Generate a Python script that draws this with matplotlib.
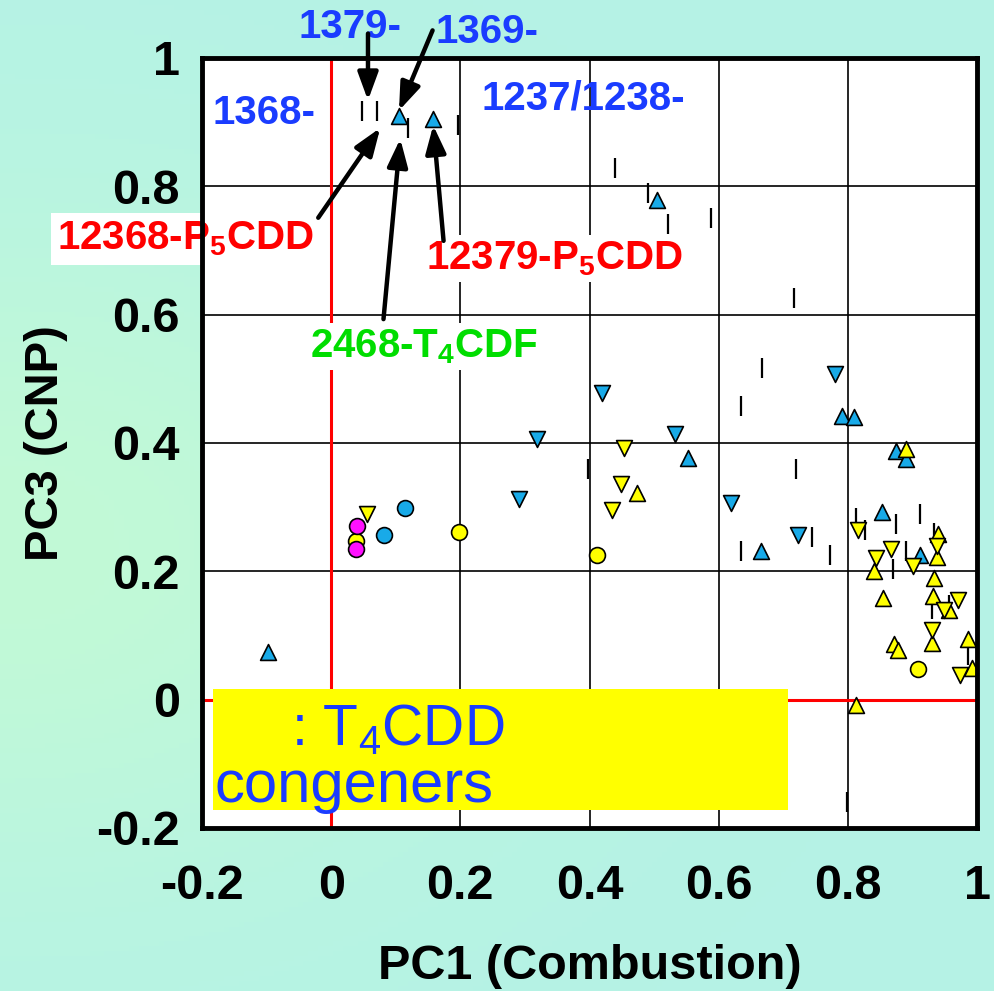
import matplotlib.pyplot as plt
import numpy as np
from matplotlib.patches import Rectangle

plt.rcParams['font.family'] = ['Liberation Sans', 'DejaVu Sans']
plt.rcParams['mathtext.default'] = 'regular'

# --- data ---
tick_x = [0.047, 0.071, 0.119, 0.197, 0.440, 0.490, 0.521, 0.588, 0.716, 0.667, 0.634,
          0.397, 0.719, 0.634, 0.744, 0.772, 0.812, 0.826, 0.874, 0.912, 0.870, 0.890,
          0.933, 0.930, 0.957, 0.986, 0.798]
tick_y = [0.918, 0.918, 0.891, 0.896, 0.829, 0.790, 0.742, 0.751, 0.626, 0.517, 0.457,
          0.359, 0.359, 0.231, 0.254, 0.225, 0.283, 0.265, 0.273, 0.289, 0.203, 0.231,
          0.259, 0.141, 0.148, 0.070, -0.160]

cyan_up_x = [0.105, 0.157, 0.505, -0.098, 0.552, 0.791, 0.809, 0.874, 0.890, 0.853, 0.665, 0.912]
cyan_up_y = [0.910, 0.905, 0.778, 0.075, 0.376, 0.442, 0.440, 0.387, 0.375, 0.292, 0.231, 0.225]

cyan_dn_x = [0.420, 0.532, 0.780, 0.619, 0.722, 0.319, 0.291]
cyan_dn_y = [0.478, 0.414, 0.507, 0.306, 0.256, 0.406, 0.312]

cyan_circ_x = [0.115, 0.082]
cyan_circ_y = [0.298, 0.256]

yel_circ_x = [0.039, 0.198, 0.412, 0.909]
yel_circ_y = [0.247, 0.261, 0.226, 0.047]

mag_circ_x = [0.040, 0.039]
mag_circ_y = [0.270, 0.234]

yel_up_x = [0.473, 0.890, 0.841, 0.940, 0.938, 0.933, 0.854, 0.932, 0.957, 0.930,
            0.986, 0.871, 0.877, 0.992, 0.812]
yel_up_y = [0.322, 0.390, 0.200, 0.258, 0.223, 0.189, 0.158, 0.161, 0.140, 0.089,
            0.095, 0.086, 0.078, 0.050, -0.008]

yel_dn_x = [0.056, 0.454, 0.448, 0.435, 0.815, 0.867, 0.843, 0.901, 0.938, 0.971,
            0.949, 0.930, 0.974]
yel_dn_y = [0.290, 0.392, 0.336, 0.295, 0.265, 0.234, 0.220, 0.209, 0.239, 0.156,
            0.139, 0.109, 0.039]

xticks = [-0.2, 0, 0.2, 0.4, 0.6, 0.8, 1]
xtick_labels = ['-0.2', '0', '0.2', '0.4', '0.6', '0.8', '1']
yticks = [-0.2, 0, 0.2, 0.4, 0.6, 0.8, 1]
ytick_labels = ['-0.2', '0', '0.2', '0.4', '0.6', '0.8', '1']

CYAN = '#18aae8'
YEL = '#ffff00'
MAG = '#ff10ff'
BLUE_TXT = '#1a3cff'

# --- figure with gradient background ---
fig = plt.figure(figsize=(9.95, 9.91), dpi=100)
bg = fig.add_axes([0, 0, 1, 1], zorder=-10)
gx, gy = np.meshgrid(np.linspace(0, 1, 200), np.linspace(1, 0, 200))
w = np.exp(-((gx - 0.0) ** 2 / 0.25 + (gy - 0.45) ** 2 / 0.12))
c1 = np.array([0.71, 0.95, 0.90])
c2 = np.array([0.76, 0.98, 0.84])
img = c1[None, None, :] * (1 - w[..., None]) + c2[None, None, :] * w[..., None]
bg.imshow(img, extent=[0, 1, 0, 1], aspect='auto')
bg.axis('off')

ax = fig.add_axes([0.203, 0.1645, 0.779, 0.777])
ax.set_facecolor('white')
ax.set_xlim(-0.2, 1)
ax.set_ylim(-0.2, 1)

# grid + red zero lines
for v in [0.2, 0.4, 0.6, 0.8]:
    ax.axvline(v, color='black', lw=1.2, zorder=1)
    ax.axhline(v, color='black', lw=1.2, zorder=1)
ax.axvline(0, color='red', lw=2.2, zorder=1)
ax.axhline(0, color='red', lw=2.2, zorder=1)

# legend box
ax.add_patch(Rectangle((-0.183, -0.172), 0.890, 0.188, facecolor=YEL, edgecolor='none', zorder=2))
ax.text(-0.062, -0.070, ': T$_4$CDD', fontsize=41, color=BLUE_TXT, zorder=3, va='baseline')
ax.text(-0.181, -0.159, 'congeners', fontsize=43, color=BLUE_TXT, zorder=3, va='baseline')

# points
ms = 130
ax.scatter(tick_x, tick_y, marker='|', s=200, color='black', linewidths=1.6, zorder=4)
ax.scatter(yel_circ_x, yel_circ_y, marker='o', s=ms, facecolor=YEL, edgecolor='black', linewidths=1.2, zorder=5)
ax.scatter(mag_circ_x, mag_circ_y, marker='o', s=ms, facecolor=MAG, edgecolor='black', linewidths=1.2, zorder=5)
ax.scatter(cyan_circ_x, cyan_circ_y, marker='o', s=ms, facecolor=CYAN, edgecolor='black', linewidths=1.2, zorder=5)
ax.scatter(cyan_up_x, cyan_up_y, marker='^', s=ms, facecolor=CYAN, edgecolor='black', linewidths=1.2, zorder=5)
ax.scatter(cyan_dn_x, cyan_dn_y, marker='v', s=ms, facecolor=CYAN, edgecolor='black', linewidths=1.2, zorder=5)
ax.scatter(yel_up_x, yel_up_y, marker='^', s=ms, facecolor=YEL, edgecolor='black', linewidths=1.2, zorder=6)
ax.scatter(yel_dn_x, yel_dn_y, marker='v', s=ms, facecolor=YEL, edgecolor='black', linewidths=1.2, zorder=6)

# labels
ax.text(0.029, 1.049, '1379-', fontsize=29, fontweight='bold', color=BLUE_TXT, ha='center', va='center', zorder=8, clip_on=False)
ax.text(0.242, 1.041, '1369-', fontsize=29, fontweight='bold', color=BLUE_TXT, ha='center', va='center', zorder=8, clip_on=False)
ax.text(-0.104, 0.915, '1368-', fontsize=29, fontweight='bold', color=BLUE_TXT, ha='center', va='center', zorder=8)
ax.text(0.391, 0.937, '1237/1238-', fontsize=29, fontweight='bold', color=BLUE_TXT, ha='center', va='center', zorder=8)
ax.text(-0.225, 0.718, '12368-P$_5$CDD', fontsize=29, fontweight='bold', color='#ff0000', ha='center', va='center',
        zorder=8, clip_on=False, bbox=dict(facecolor='white', edgecolor='none', pad=5))
ax.text(0.346, 0.687, '12379-P$_5$CDD', fontsize=29, fontweight='bold', color='#ff0000', ha='center', va='center',
        zorder=8, bbox=dict(facecolor='white', edgecolor='none', pad=3))
ax.text(0.143, 0.550, '2468-T$_4$CDF', fontsize=29, fontweight='bold', color='#00dd00', ha='center', va='center',
        zorder=8, bbox=dict(facecolor='white', edgecolor='none', pad=3))

# arrows
arrows = [((0.057, 1.038), (0.057, 0.934)),
          ((0.157, 1.043), (0.105, 0.918)),
          ((-0.020, 0.751), (0.076, 0.891)),
          ((0.081, 0.593), (0.107, 0.874)),
          ((0.174, 0.715), (0.158, 0.895))]
for tail, tip in arrows:
    ax.annotate('', xy=tip, xytext=tail, annotation_clip=False, zorder=9,
                arrowprops=dict(arrowstyle='-|>,head_length=0.6,head_width=0.22', lw=3.2,
                                color='black', mutation_scale=28, shrinkA=0, shrinkB=0))

# axes styling
for s in ax.spines.values():
    s.set_linewidth(3.5)
    s.set_zorder(10)
ax.set_xticks(xticks)
ax.set_xticklabels(xtick_labels)
ax.set_yticks(yticks)
ax.set_yticklabels(ytick_labels)
ax.tick_params(axis='both', length=0, labelsize=35)
ax.tick_params(axis='x', pad=26)
ax.tick_params(axis='y', pad=16)
for lab in ax.get_xticklabels() + ax.get_yticklabels():
    lab.set_fontweight('bold')

ax.set_xlabel('PC1 (Combustion)', fontsize=35, fontweight='bold', labelpad=25)
ax.set_ylabel('PC3 (CNP)', fontsize=34, fontweight='bold', labelpad=20)

fig.savefig('out.png', dpi=100)
